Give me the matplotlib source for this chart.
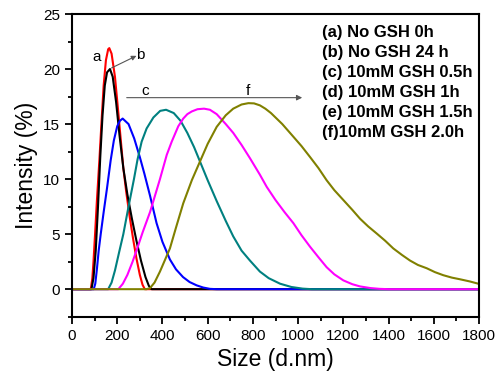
import matplotlib.pyplot as plt
from matplotlib.ticker import MultipleLocator

plt.rcParams['font.family'] = ['Liberation Sans', 'DejaVu Sans']

# values (size in d.nm, intensity in %)
size_a = [0, 83, 90, 95, 102, 110, 121, 130, 140, 150, 160, 165, 175, 190, 205, 227,
          240, 255, 270, 285, 300, 312, 322, 1800]
int_a = [0, 0, 1.0, 2.5, 5.0, 8.0, 11.7, 15.0, 18.5, 20.8, 21.8, 21.9, 21.4, 19.3, 16.0, 11.0,
         8.8, 6.6, 4.6, 2.8, 1.3, 0.4, 0, 0]

size_b = [0, 86, 95, 105, 115, 125, 135, 145, 155, 168, 180, 195, 210, 227, 245, 265,
          285, 305, 325, 340, 352, 1800]
int_b = [0, 0, 1.0, 3.5, 7.5, 12.0, 15.8, 18.5, 19.7, 20.0, 19.3, 17.0, 14.0, 11.0, 8.6, 6.4,
         4.4, 2.6, 1.1, 0.3, 0, 0]

size_c = [0, 96, 103, 110, 118, 127, 140, 155, 171, 185, 200, 212, 224, 250, 275, 300,
          320, 345, 374, 400, 433, 460, 491, 520, 551, 580, 610, 640, 1800]
int_c = [0, 0, 0.5, 1.8, 3.5, 5.0, 7.0, 9.2, 11.7, 13.5, 14.8, 15.3, 15.5, 15.0, 13.7, 12.0,
         10.5, 8.5, 6.0, 4.3, 2.7, 1.8, 1.1, 0.65, 0.35, 0.15, 0.03, 0, 0]

size_d = [0, 160, 175, 190, 210, 227, 250, 274, 290, 308, 330, 360, 390, 416, 450, 480,
          510, 540, 566, 600, 640, 680, 713, 750, 787, 831, 870, 920, 970, 1020, 1060, 1800]
int_d = [0, 0, 0.6, 1.7, 3.5, 5.0, 7.5, 10.0, 11.8, 13.4, 14.6, 15.6, 16.2, 16.3, 16.0, 15.3,
         14.2, 12.9, 11.6, 9.9, 8.0, 6.2, 4.8, 3.5, 2.6, 1.6, 1.0, 0.5, 0.2, 0.05, 0, 0]

size_e = [0, 205, 225, 245, 268, 290, 313, 345, 370, 389, 419, 441, 470, 492, 510, 530, 555,
          584, 610, 640, 680, 713, 750, 787, 831, 861, 900, 940, 979, 1015, 1053, 1090, 1126,
          1160, 1200, 1240, 1274, 1320, 1360, 1400, 1800]
int_e = [0, 0, 0.5, 1.3, 2.5, 3.8, 5.2, 7.0, 8.7, 10.0, 12.2, 13.4, 14.8, 15.5, 15.9, 16.15,
         16.35, 16.4, 16.3, 15.9, 15.0, 14.2, 13.1, 11.9, 10.4, 9.3, 8.1, 7.0, 6.0, 4.9, 3.85,
         2.9, 2.0, 1.35, 0.8, 0.45, 0.25, 0.1, 0.03, 0, 0]

size_f = [0, 330, 345, 365, 389, 410, 433, 460, 492, 530, 566, 600, 640, 680, 713, 750,
          780, 805, 831, 855, 880, 930, 979, 1015, 1053, 1090, 1126, 1160, 1200, 1240, 1274,
          1310, 1348, 1385, 1421, 1460, 1495, 1530, 1569, 1605, 1642, 1680, 1716, 1760, 1800]
int_f = [0, 0, 0.1, 0.6, 1.6, 2.6, 3.7, 5.6, 7.8, 9.9, 11.6, 13.2, 14.75, 15.8, 16.4, 16.78,
         16.9, 16.88, 16.7, 16.4, 16.0, 15.0, 13.85, 13.0, 12.0, 11.0, 9.9, 9.0, 8.1, 7.2,
         6.4, 5.7, 5.05, 4.4, 3.7, 3.1, 2.6, 2.2, 1.9, 1.55, 1.27, 1.05, 0.9, 0.7, 0.48]

legend_lines = ['(a) No GSH 0h', '(b) No GSH 24 h', '(c) 10mM GSH 0.5h',
                '(d) 10mM GSH 1h', '(e) 10mM GSH 1.5h', '(f)10mM GSH 2.0h']

series = [(size_a, int_a, '#ff0000'), (size_b, int_b, '#000000'),
          (size_c, int_c, '#0000ff'), (size_d, int_d, '#008080'),
          (size_e, int_e, '#ff00ff'), (size_f, int_f, '#808000')]

fig = plt.figure(figsize=(5.01, 3.79), dpi=100)
ax = fig.add_axes([72 / 501, 1 - 316.7 / 379, 407 / 501, 302.7 / 379])

for xs, ys, col in series:
    ax.plot(xs, ys, color=col, lw=1.5, solid_joinstyle='round')

ax.set_xlim(0, 1800)
ax.set_ylim(-2.5, 25)
ax.xaxis.set_major_locator(MultipleLocator(200))
ax.xaxis.set_minor_locator(MultipleLocator(100))
ax.yaxis.set_major_locator(MultipleLocator(5))
ax.yaxis.set_minor_locator(MultipleLocator(2.5))
ax.set_yticks([0, 5, 10, 15, 20, 25])
ax.tick_params(which='both', direction='out', top=False, right=False, width=1.3,
               labelsize=11)
ax.tick_params(which='major', length=5)
ax.tick_params(which='minor', length=3)
for sp in ax.spines.values():
    sp.set_linewidth(1.5)

ax.set_xlabel('Size (d.nm)', fontsize=16.5, labelpad=4)
ax.set_ylabel('Intensity (%)', fontsize=16.5, labelpad=4)

# peak labels and arrows
ax.text(109, 21.1, 'a', fontsize=11, ha='center', va='center')
ax.text(301, 21.3, 'b', fontsize=11, ha='center', va='center')
ax.annotate('', xy=(285, 21.2), xytext=(175, 20.1),
            arrowprops=dict(arrowstyle='-|>', color='#555555', lw=0.8,
                            mutation_scale=7, shrinkA=0, shrinkB=0))
ax.text(323, 18.0, 'c', fontsize=11, ha='center', va='center')
ax.text(780, 18.0, 'f', fontsize=11, ha='center', va='center')
ax.annotate('', xy=(1018, 17.4), xytext=(242, 17.4),
            arrowprops=dict(arrowstyle='-|>', color='#555555', lw=0.8,
                            mutation_scale=8, shrinkA=0, shrinkB=0))

for i, s in enumerate(legend_lines):
    ax.text(1104, 23.33 - i * 20 / 11, s, fontsize=12, fontweight='bold',
            ha='left', va='center')

fig.savefig('out.png', dpi=100)
